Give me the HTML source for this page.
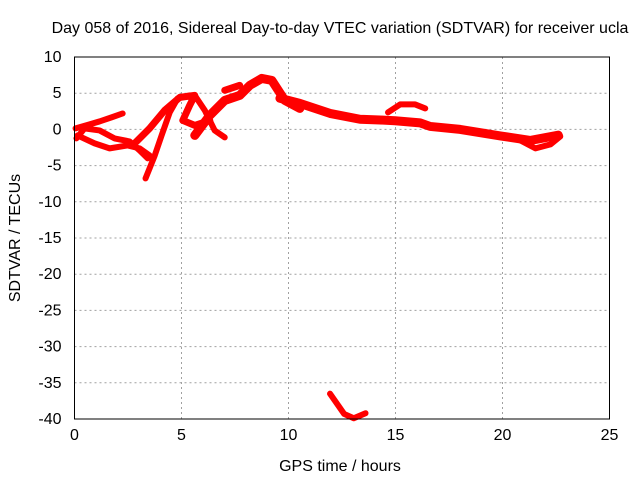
<!DOCTYPE html>
<html><head><meta charset="utf-8"><style>
body{margin:0;background:#fff}
svg text{font-family:"Liberation Sans",sans-serif;font-size:16px;fill:#000}
</style></head><body>
<svg id="chart" width="640" height="480" xmlns="http://www.w3.org/2000/svg">
<rect width="640" height="480" fill="#fff"/>
<text x="340" y="33" text-anchor="middle">Day 058 of 2016, Sidereal Day-to-day VTEC variation (SDTVAR) for receiver ucla</text>
<g id="grid"></g><g id="series"></g><g id="axes"></g>
<text x="340" y="471" text-anchor="middle">GPS time / hours</text>
<text transform="translate(20,238) rotate(-90)" text-anchor="middle">SDTVAR / TECUs</text>
</svg>
<script>
const xTicks=[0,5,10,15,20,25];
const yTicks=[10,5,0,-5,-10,-15,-20,-25,-30,-35,-40];
const s1=[[0.05,0.14],[0.7,0.7],[1.17,1.1],[1.73,1.66],[2.25,2.2]];
const s2=[[0.09,-1.24],[0.47,0.14],[1.17,-0.14],[1.87,-1.24],[2.57,-1.66],[3.04,-2.9],[3.42,-4.0]];
const s3=[[0.14,-0.83],[0.94,-1.93],[1.64,-2.62],[2.48,-2.21],[3.04,-2.62],[3.51,-3.6]];
const s4=[[3.32,-6.77],[3.75,-3.6],[4.07,-0.83],[4.45,2.35],[4.82,4.28],[5.38,4.7]];
const s5=[[2.81,-1.93],[3.51,0.14],[4.21,2.62],[4.92,4.42],[5.62,4.7],[5.38,3.31],[5.06,1.24],[5.62,0.55],[6.32,1.24]];
const s6=[[5.62,4.7],[6.09,2.62],[6.55,-0.14],[7.02,-1.1]];
const s7=[[5.62,-0.83],[6.32,1.93],[7.02,4.0],[7.72,4.7],[8.19,6.08],[8.75,7.04],[9.22,6.77],[9.83,4.0],[10.53,2.9]];
const s8=[[7.02,5.4],[7.72,6.08]];
const s9=[[9.6,4.3],[10.53,3.6],[11.94,2.21],[13.34,1.4],[14.28,1.3],[14.98,1.2],[16.15,0.9],[16.62,0.41],[18.02,0.0],[19.9,-0.9],[21.3,-1.52],[22.61,-0.8]];
const s10=[[14.65,2.35],[15.22,3.45],[15.92,3.45],[16.39,2.9]];
const s11=[[20.83,-1.52],[21.54,-2.62],[22.24,-2.07],[22.7,-0.97]];
const s12=[[11.94,-36.5],[12.6,-39.3],[13.05,-39.9],[13.6,-39.2]];
const seriesList=[s1,s2,s3,s4,s5,s6,s7,s8,s9,s10,s11,s12];
const widths=[6,6,6,6,7,6,9,7,9,6,6,6];
const L=74.5,R=609.5,T=57,B=419;
const xs=h=>L+(h-0)/25*(R-L);
const ys=v=>B-(v+40)/50*(B-T);
const NS="http://www.w3.org/2000/svg";
const grid=document.getElementById('grid'),axes=document.getElementById('axes'),ser=document.getElementById('series');
function mk(tag,attrs,parent){const e=document.createElementNS(NS,tag);for(const k in attrs)e.setAttribute(k,attrs[k]);parent.appendChild(e);return e;}
xTicks.forEach(t=>{const x=xs(t);
 if(t>0&&t<25){const g=mk('line',{x1:x,x2:x,y1:T,y2:B,stroke:'#a0a0a0','stroke-dasharray':'2,3'},grid);
 
 }
 const tx=mk('text',{x:x,y:B+21,'text-anchor':'middle'},axes);tx.textContent=t;
 
 
});
yTicks.forEach(t=>{const y=ys(t);
 if(t>-40&&t<10){const g=mk('line',{x1:L,x2:R,y1:y,y2:y,stroke:'#a0a0a0','stroke-dasharray':'2,3'},grid);
 
 }
 const tx=mk('text',{x:L-13,y:y+5,'text-anchor':'end'},axes);tx.textContent=t;
 
 
});
const frame=mk('rect',{x:L,y:T,width:R-L,height:B-T,fill:'none',stroke:'#000','stroke-width':1},axes);


seriesList.forEach((s,i)=>{
 const p=mk('polyline',{points:s.map(d=>xs(d[0])+','+ys(d[1])).join(' '),fill:'none',stroke:'#ff0000','stroke-width':widths[i],'stroke-linejoin':'round','stroke-linecap':'round'},ser);
 
 
});
</script>
</body></html>
